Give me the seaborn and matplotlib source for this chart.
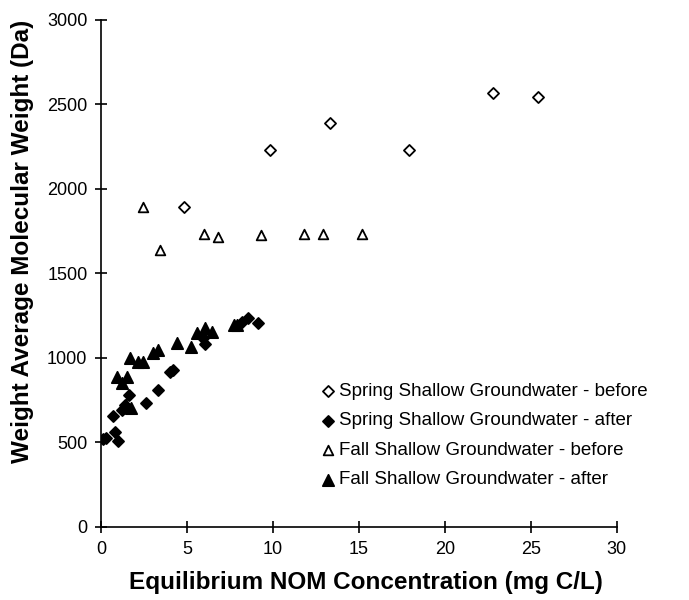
import matplotlib
matplotlib.use("Agg")
import matplotlib.pyplot as plt
import seaborn as sns
import pandas as pd

# Spring Shallow Groundwater - before
spring_before_x = [4.8, 9.8, 13.3, 17.9, 22.8, 25.4]
spring_before_y = [1890, 2230, 2390, 2230, 2565, 2545]

# Spring Shallow Groundwater - after
spring_after_x = [0.1, 0.3, 0.7, 0.8, 1.0, 1.2, 1.4, 1.6, 2.6, 3.3, 4.0, 4.2,
                  5.9, 6.05, 8.2, 8.55, 9.1]
spring_after_y = [521, 525, 655, 562, 505, 690, 720, 781, 733, 810, 917, 925,
                  1118, 1080, 1213, 1237, 1207]

# Fall Shallow Groundwater - before
fall_before_x = [2.4, 3.4, 6.0, 6.8, 9.3, 11.8, 12.9, 15.2]
fall_before_y = [1895, 1640, 1735, 1715, 1725, 1735, 1735, 1735]

# Fall Shallow Groundwater - after
fall_after_x = [0.93, 1.5, 1.2, 1.45, 1.74, 1.7, 2.15, 2.4, 3.0, 3.3, 4.4,
                5.2, 5.6, 6.05, 6.45, 7.7, 7.9]
fall_after_y = [888, 888, 852, 722, 704, 1000, 976, 976, 1030, 1047, 1089,
                1065, 1148, 1177, 1154, 1195, 1195]

series_names = ["Spring Shallow Groundwater - before",
                "Spring Shallow Groundwater - after",
                "Fall Shallow Groundwater - before",
                "Fall Shallow Groundwater - after"]

frames = []
for name, xs, ys in zip(series_names,
                        [spring_before_x, spring_after_x, fall_before_x, fall_after_x],
                        [spring_before_y, spring_after_y, fall_before_y, fall_after_y]):
    frames.append(pd.DataFrame({"x": xs, "y": ys, "series": name}))
df = pd.concat(frames, ignore_index=True)

sns.set_style("ticks")
plt.rcParams["font.family"] = ["Liberation Sans", "DejaVu Sans"]
plt.rcParams["text.color"] = "black"
plt.rcParams["axes.labelcolor"] = "black"

fig = plt.figure(figsize=(6.89, 6.0), dpi=100)
ax = fig.add_axes([0.147, 0.122, 0.748, 0.845])

styles = {
    series_names[0]: dict(marker="D", facecolor="white", size=32),
    series_names[1]: dict(marker="D", facecolor="black", size=32),
    series_names[2]: dict(marker="^", facecolor="white", size=48),
    series_names[3]: dict(marker="^", facecolor="black", size=66),
}
for name in series_names:
    st = styles[name]
    sub = df[df["series"] == name]
    sns.scatterplot(data=sub, x="x", y="y", ax=ax, marker=st["marker"],
                    s=st["size"], facecolor=st["facecolor"], edgecolor="black",
                    linewidth=1.3, label=name, zorder=3)

ax.set_xlim(0, 30)
ax.set_ylim(0, 3000)
ax.set_xticks(range(0, 31, 5))
ax.set_yticks(range(0, 3001, 500))
for sp in ["top", "right"]:
    ax.spines[sp].set_visible(False)
for sp in ["left", "bottom"]:
    ax.spines[sp].set_linewidth(1.2)
    ax.spines[sp].set_color("black")
ax.tick_params(axis="both", direction="inout", length=8, width=1.2,
               labelsize=13, colors="black", labelcolor="black", pad=6)
ax.set_xlabel("Equilibrium NOM Concentration (mg C/L)", fontsize=17.5,
              fontweight="bold", color="black")
ax.set_ylabel("Weight Average Molecular Weight (Da)", fontsize=17.5,
              fontweight="bold", color="black")
ax.xaxis.set_label_coords(0.514, -0.088)
ax.yaxis.set_label_coords(-0.13, 0.562)

leg = ax.legend(loc="upper left", bbox_to_anchor=(0.428, 0.284), frameon=False,
                fontsize=13.5, handletextpad=0.2, labelspacing=0.66,
                handlelength=0.7, borderaxespad=0, borderpad=0)
for t in leg.get_texts():
    t.set_color("black")

fig.savefig("out.png", dpi=100)
